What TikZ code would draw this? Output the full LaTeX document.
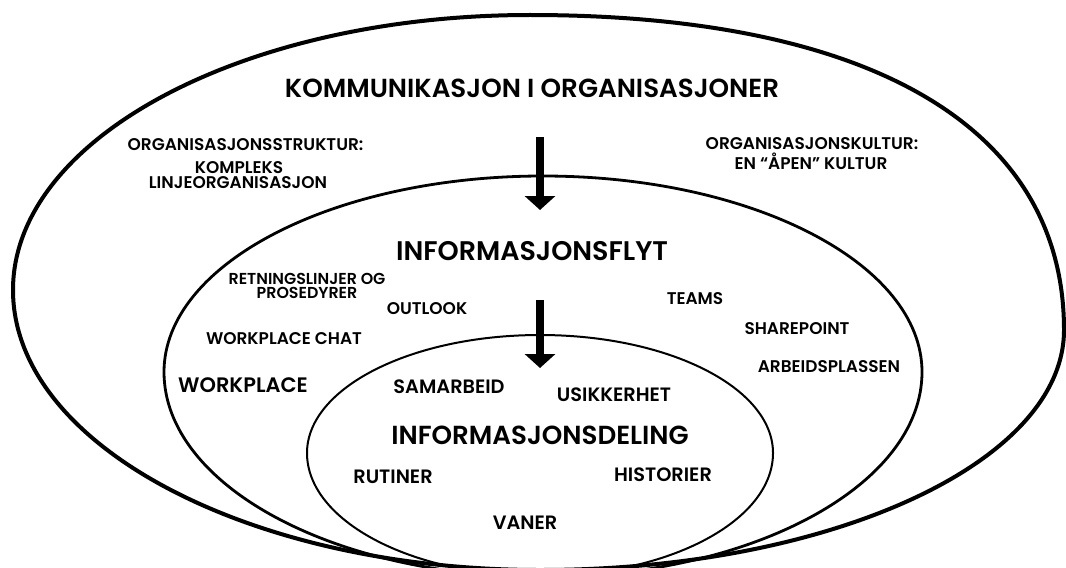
\documentclass[tikz,border=0pt]{standalone}
\usepackage{fontspec}
\IfFontExistsTF{Poppins SemiBold}{\setmainfont{Poppins SemiBold}}{\setmainfont{Poppins}[UprightFont=*-Bold]}
\usetikzlibrary{arrows.meta}
\tikzset{
  lbl/.style={inner sep=0pt, anchor=base, text=black, align=center},
  sm/.style={lbl, font=\fontsize{12.7}{15}\selectfont},
  xs/.style={lbl, font=\fontsize{11.9}{9.8}\selectfont},
  md/.style={lbl, font=\fontsize{14.5}{17}\selectfont},
  lg/.style={lbl, font=\fontsize{15.7}{18}\selectfont},
  big/.style={lbl, font=\fontsize{19.6}{22}\selectfont},
  ring/.style={draw=black, line join=round},
  flow/.style={line width=6pt, draw=black, -{Triangle[width=22.5pt,length=10.5pt]}}
}
\begin{document}
\begin{tikzpicture}[x=0.75pt,y=-0.75pt]
\path[use as bounding box] (0,0) rectangle (1066,567);
\clip (0,0) rectangle (1066,567);
\fill[white] (0,0) rectangle (1066,567);
% rings
\draw[ring, line width=3pt] (530,15) .. controls (872,15) and (1064,128) .. (1064,330)
  .. controls (1064,463) and (829,570) .. (540,570)
  .. controls (249,570) and (13,445) .. (13,290)
  .. controls (13,138) and (244,15) .. (530,15) -- cycle;
\draw[ring, line width=2.1pt] (164,372) .. controls (164,263.7) and (333.7,176) .. (543,176)
  .. controls (752.3,176) and (922,263.7) .. (922,372)
  .. controls (922,485.2) and (752.3,577) .. (543,577)
  .. controls (333.7,577) and (164,485.2) .. (164,372) -- cycle;
\draw[ring, line width=1.5pt] (307,453) .. controls (307,387.8) and (411.3,335) .. (540,335)
  .. controls (668.7,335) and (773,387.8) .. (773,453)
  .. controls (773,520.9) and (668.7,576) .. (540,576)
  .. controls (411.3,576) and (307,520.9) .. (307,453) -- cycle;
% arrows
\coordinate (a1s) at (540,137);
\coordinate (a1e) at (540,210);
\coordinate (a2s) at (540,300);
\coordinate (a2e) at (540,368);
\draw[flow] (a1s) -- (a1e);
\draw[flow] (a2s) -- (a2e);
% outer ring texts
\node[big] (kom) at (532,98) {KOMMUNIKASJON I ORGANISASJONER};
\node[sm] (struk) at (245.5,150.7) {ORGANISASJONSSTRUKTUR:};
\node[sm] (kompl) at (239,173.5) {KOMPLEKS};
\node[sm] (linje) at (238,188.5) {LINJEORGANISASJON};
\node[sm] (kult) at (812,149.7) {ORGANISASJONSKULTUR:};
\node[sm] (apen) at (811,169.7) {EN “ÅPEN” KULTUR};
% middle ring texts
\node[big, font=\fontsize{20.2}{22}\selectfont] (flyt) at (532,260) {INFORMASJONSFLYT};
\node[xs] (retn) at (307,284.3) {RETNINGSLINJER OG};
\node[xs] (pros) at (307,298.3) {PROSEDYRER};
\node[sm] (outl) at (427,314) {OUTLOOK};
\node[sm] (chat) at (284,344) {WORKPLACE CHAT};
\node[lg] (wp) at (243,392) {WORKPLACE};
\node[sm] (teams) at (695,304) {TEAMS};
\node[sm] (share) at (797,334) {SHAREPOINT};
\node[sm] (arb) at (829,372) {ARBEIDSPLASSEN};
% inner ring texts
\node[md] (sam) at (449,393.7) {SAMARBEID};
\node[md] (usik) at (614,401.7) {USIKKERHET};
\node[big] (deling) at (540,444) {INFORMASJONSDELING};
\node[md] (rut) at (393,483.7) {RUTINER};
\node[md] (hist) at (663,481.7) {HISTORIER};
\node[md] (van) at (525,529.7) {VANER};
\end{tikzpicture}
\end{document}
